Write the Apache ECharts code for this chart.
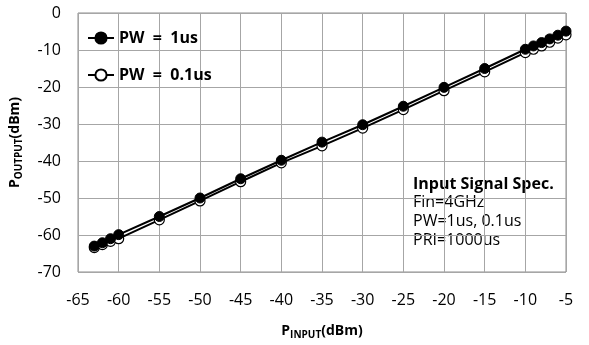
<!DOCTYPE html>
<html>
<head>
<meta charset="utf-8">
<script src="https://cdn.jsdelivr.net/npm/echarts@6/dist/echarts.min.js"></script>
<style>
  html, body { margin: 0; padding: 0; background: #fff; }
  #chart { width: 589px; height: 345px; }
</style>
</head>
<body>
<div id="chart"></div>
<script>
// input power sweep (dBm)
const pInput = [-63, -62, -61, -60, -55, -50, -45, -40, -35, -30, -25, -20, -15, -10, -9, -8, -7, -6, -5]
// output power (dBm)
const pw1us  = [-63.0, -62.1, -61.0, -59.9, -55.0, -50.0, -44.8, -39.8, -34.9, -30.2, -25.2, -20.1, -15.0, -9.8, -8.9, -8.0, -7.0, -6.0, -4.9]
const pw01us = [-63.4, -62.6, -61.7, -61.0, -55.9, -50.8, -45.6, -40.5, -35.9, -31.1, -26.1, -21.0, -15.9, -10.7, -9.8, -8.9, -7.9, -6.8, -5.9]
const xTicks = { min: -65, max: -5, step: 5 }
const yTicks = { min: -70, max: 0, step: 10 }
const specLines = ['Fin=4GHz', 'PW=1us, 0.1us', 'PRI=1000us']

const FONT = '"Open Sans", "Noto Sans", sans-serif'
const pair = ys => pInput.map((x, i) => [x, ys[i]])

const chart = echarts.init(document.getElementById('chart'), null, { renderer: 'canvas' })

const nameRich = {
  b: { fontSize: 14, fontWeight: 'bold', color: '#000', fontFamily: FONT },
  s: { fontSize: 10, fontWeight: 'bold', color: '#000', fontFamily: FONT, padding: [8, 0, 0, 0] },
}

chart.setOption({
  animation: false,
  backgroundColor: '#fff',
  textStyle: { fontFamily: FONT },
  grid: { left: 78, right: 23, top: 13, bottom: 71, show: true, borderColor: '#8c8c8c', borderWidth: 1 },
  legend: {
    left: 82, top: 24, orient: 'vertical', itemGap: 19,
    itemWidth: 26, itemHeight: 14,
    textStyle: { fontFamily: FONT, fontSize: 16, fontWeight: 'bold', color: '#000', lineHeight: 18 },
    data: ['PW  =  1us', 'PW  =  0.1us'],
  },
  xAxis: {
    type: 'value', min: xTicks.min, max: xTicks.max, interval: xTicks.step,
    axisLine: { show: false }, axisTick: { show: false },
    axisLabel: { color: '#000', fontSize: 16, margin: 20, fontFamily: FONT },
    splitLine: { lineStyle: { color: '#a6a6a6', width: 1 } },
    name: '{b|P}{s|INPUT}{b|(dBm)}', nameLocation: 'middle', nameGap: 50,
    nameTextStyle: { rich: nameRich },
  },
  yAxis: {
    type: 'value', min: yTicks.min, max: yTicks.max, interval: yTicks.step,
    axisLine: { show: false }, axisTick: { show: false },
    axisLabel: { color: '#000', fontSize: 16, margin: 17, fontFamily: FONT },
    splitLine: { lineStyle: { color: '#a6a6a6', width: 1 } },
    name: '{b|P}{s|OUTPUT}{b|(dBm)}', nameLocation: 'middle', nameGap: 54, nameRotate: 90,
    nameTextStyle: { rich: nameRich },
  },
  graphic: [
    {
      type: 'text', left: 413, top: 175,
      style: { text: 'Input Signal Spec.', fontFamily: FONT, fontSize: 16, fontWeight: 'bold', lineHeight: 19, fill: '#000' },
    },
    {
      type: 'text', left: 413, top: 193,
      style: { text: specLines.join('\n'), fontFamily: FONT, fontSize: 16, lineHeight: 19, fill: '#000' },
    },
  ],
  series: [
    {
      name: 'PW  =  1us', type: 'line', data: pair(pw1us),
      symbol: 'circle', symbolSize: 10,
      lineStyle: { color: '#000', width: 2 },
      itemStyle: { color: '#000', borderColor: '#000', borderWidth: 1 },
      z: 3,
    },
    {
      name: 'PW  =  0.1us', type: 'line', data: pair(pw01us),
      symbol: 'circle', symbolSize: 10,
      lineStyle: { color: '#000', width: 2 },
      itemStyle: { color: '#fff', borderColor: '#000', borderWidth: 1.2 },
      z: 2,
    },
  ],
})
</script>
</body>
</html>
